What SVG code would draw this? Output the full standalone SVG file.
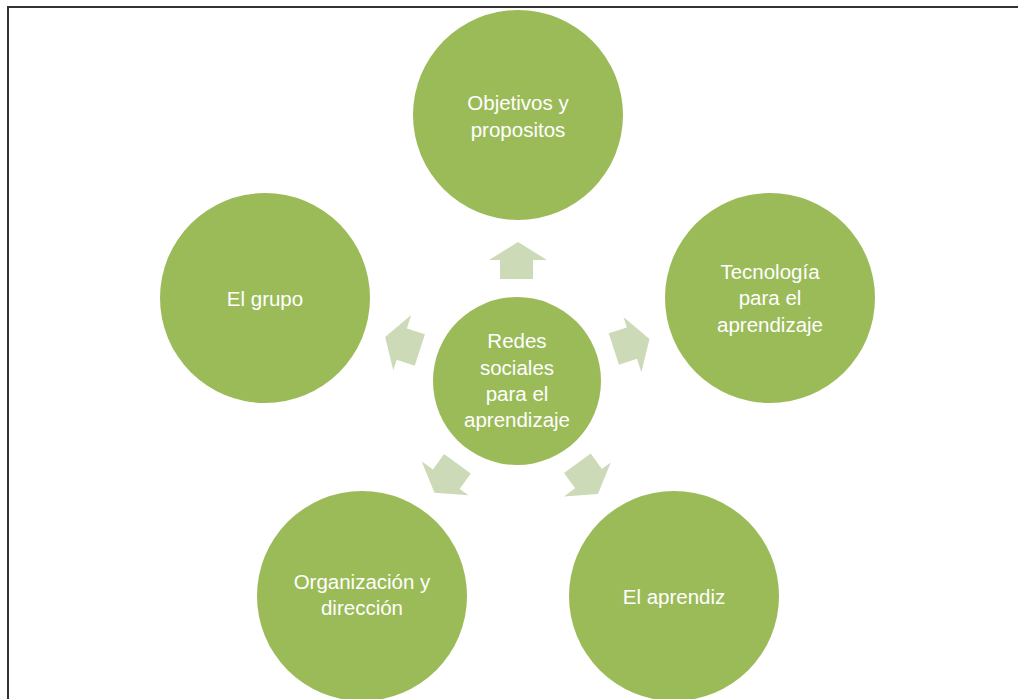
<svg xmlns="http://www.w3.org/2000/svg" width="1018" height="699" viewBox="0 0 1018 699">
<style>
.n{fill:#9BBB59}
.a{fill:#CDDAB7}
.t{font-family:"Liberation Sans",Arial,sans-serif;font-size:20.5px;fill:#FFFFFF;text-anchor:middle}
</style>
<defs>
<polygon id="arr" points="-29,0 0,-18 29,0 15,0 15,19 -18,19 -18,0" transform="translate(1,0)"/>
</defs>
<rect x="0" y="0" width="1018" height="699" fill="#FFFFFF"/>
<path d="M8,699 V7 H1018" fill="none" stroke="#333333" stroke-width="2"/>
<g id="connectors">
<g transform="translate(517,381)">
<use href="#arr" class="a" transform="translate(0,-121)"/>
<use href="#arr" class="a" transform="rotate(72) translate(0,-121)"/>
<use href="#arr" class="a" transform="rotate(144) translate(0,-121)"/>
<use href="#arr" class="a" transform="rotate(216) translate(0,-121)"/>
<use href="#arr" class="a" transform="rotate(288) translate(0,-121)"/>
</g>
</g>
<g id="center">
<circle class="n" cx="517" cy="381" r="84"/>
<text class="t" x="517" y="348">Redes</text>
<text class="t" x="517" y="375">sociales</text>
<text class="t" x="517" y="401">para el</text>
<text class="t" x="517" y="427">aprendizaje</text>
</g>
<g id="objetivos">
<circle class="n" cx="518" cy="115" r="105"/>
<text class="t" x="518" y="110">Objetivos y</text>
<text class="t" x="518" y="137">propositos</text>
</g>
<g id="tecnologia">
<circle class="n" cx="770" cy="298" r="105"/>
<text class="t" x="770" y="279">Tecnología</text>
<text class="t" x="770" y="305">para el</text>
<text class="t" x="770" y="332">aprendizaje</text>
</g>
<g id="aprendiz">
<circle class="n" cx="674" cy="596" r="105"/>
<text class="t" x="674" y="604">El aprendiz</text>
</g>
<g id="organizacion">
<circle class="n" cx="362" cy="596" r="105"/>
<text class="t" x="362" y="589">Organización y</text>
<text class="t" x="362" y="615">dirección</text>
</g>
<g id="grupo">
<circle class="n" cx="265" cy="298" r="105"/>
<text class="t" x="265" y="306">El grupo</text>
</g>
</svg>
